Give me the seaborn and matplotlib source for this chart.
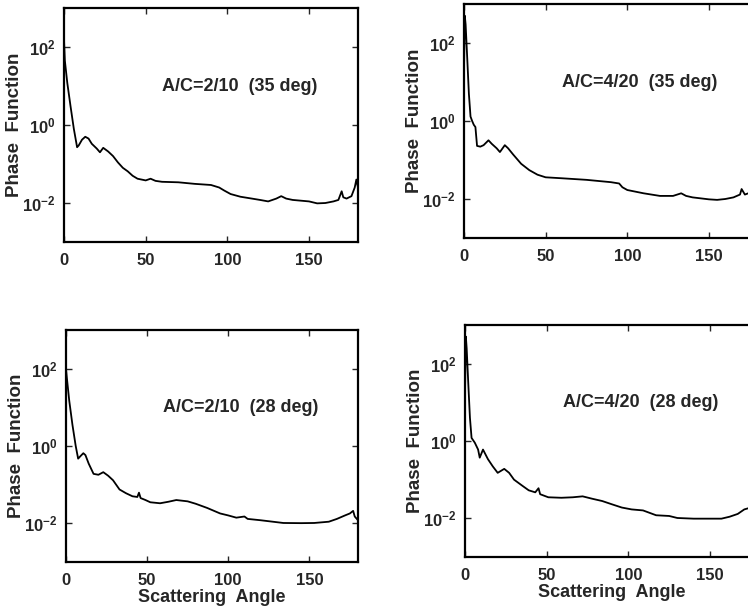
import numpy as np
import pandas as pd
import matplotlib
matplotlib.use('Agg')
import matplotlib.pyplot as plt
import seaborn as sns

# Phase function vs scattering angle
x_tl = [0, 0.5, 2, 4, 6, 8, 9, 11, 13, 15, 17, 20, 22, 24, 27, 30, 33, 36, 39, 42, 45, 50, 53, 56, 60,
        70, 80, 90, 95, 98, 102, 108, 115, 120, 125, 130, 133, 136, 140, 150, 155, 160, 165, 168, 170,
        171, 173, 176, 178, 179, 180]
y_tl = [150, 45, 12, 3, 0.8, 0.27, 0.3, 0.42, 0.5, 0.45, 0.33, 0.25, 0.2, 0.26, 0.21, 0.16, 0.11, 0.08,
        0.065, 0.05, 0.042, 0.038, 0.042, 0.037, 0.035, 0.034, 0.031, 0.029, 0.025, 0.021, 0.017, 0.0145,
        0.013, 0.012, 0.011, 0.013, 0.015, 0.013, 0.012, 0.011, 0.0098, 0.010, 0.011, 0.012, 0.02, 0.014,
        0.013, 0.015, 0.025, 0.04, 0.025]

x_tr = [0, 0.5, 1, 2, 3, 4, 5, 6, 7, 8, 10, 12, 15, 17, 20, 22, 25, 27, 30, 35, 40, 45, 50, 60, 75,
        90, 95, 97, 100, 110, 120, 128, 133, 136, 140, 150, 155, 160, 165, 169, 170, 172, 176, 180]
y_tr = [20, 500, 300, 40, 5, 1.3, 1.0, 0.8, 0.7, 0.23, 0.22, 0.24, 0.32, 0.26, 0.2, 0.16, 0.24, 0.2,
        0.14, 0.08, 0.055, 0.042, 0.036, 0.034, 0.031, 0.027, 0.025, 0.02, 0.017, 0.014, 0.012, 0.012,
        0.014, 0.012, 0.011, 0.0098, 0.0095, 0.01, 0.011, 0.013, 0.018, 0.013, 0.015, 0.02]

x_bl = [0, 0.5, 2, 4, 6, 7.5, 9, 10.7, 12, 14, 17, 20, 23, 26, 29, 33, 37, 41, 44, 45, 46, 49, 52,
        58, 63, 68, 75, 80, 87, 95, 100, 105, 110, 112, 120, 134, 145, 153, 162, 167, 172, 175, 177,
        178, 180]
y_bl = [100, 60, 15, 3.5, 1.0, 0.47, 0.55, 0.65, 0.58, 0.35, 0.19, 0.18, 0.21, 0.17, 0.13, 0.075,
        0.06, 0.05, 0.048, 0.062, 0.045, 0.04, 0.035, 0.033, 0.036, 0.04, 0.037, 0.032, 0.025, 0.018,
        0.016, 0.014, 0.015, 0.013, 0.012, 0.0102, 0.0101, 0.0102, 0.011, 0.013, 0.016, 0.018, 0.021,
        0.015, 0.012]

x_br = [0, 0.5, 1, 2, 3, 4, 6, 8, 9, 11, 14, 17, 20, 24, 27, 30, 35, 39, 43, 45, 46, 51, 59, 66, 72,
        78, 84, 90, 96, 102, 109, 117, 125, 130, 140, 150, 157, 162, 167, 171, 175, 180]
y_br = [20, 500, 250, 30, 4, 1.2, 0.9, 0.6, 0.37, 0.6, 0.34, 0.22, 0.15, 0.19, 0.15, 0.1, 0.07, 0.053,
        0.047, 0.06, 0.042, 0.035, 0.034, 0.035, 0.037, 0.032, 0.028, 0.023, 0.019, 0.017, 0.016, 0.012,
        0.0115, 0.0102, 0.0098, 0.0098, 0.0098, 0.011, 0.013, 0.017, 0.019, 0.022]

labels = ['A/C=2/10  (35 deg)', 'A/C=4/20  (35 deg)', 'A/C=2/10  (28 deg)', 'A/C=4/20  (28 deg)']

sns.set_theme(style='ticks')
plt.rcParams['font.family'] = ['Liberation Sans', 'DejaVu Sans']
plt.rcParams['mathtext.default'] = 'regular'
plt.rcParams['axes.unicode_minus'] = False

fig = plt.figure(figsize=(7.48, 6.09), dpi=100)
boxes = [[0.0856, 0.6026, 0.393, 0.3842],
         [0.6203, 0.6092, 0.393, 0.3842],
         [0.0882, 0.0772, 0.3904, 0.381],
         [0.6217, 0.0854, 0.393, 0.381]]
series = [(x_tl, y_tl), (x_tr, y_tr), (x_bl, y_bl), (x_br, y_br)]

for i, (box, (xs, ys), lab) in enumerate(zip(boxes, series, labels)):
    ax = fig.add_axes(box)
    df = pd.DataFrame({'angle': xs, 'phase': ys})
    sns.lineplot(data=df, x='angle', y='phase', ax=ax, color='black', linewidth=1.3,
                 estimator=None, sort=False)
    ax.set_yscale('log')
    ax.set_xlim(0, 180)
    ax.set_ylim(1e-3, 1e3)
    ax.set_yticks([1e-2, 1e0, 1e2])
    ax.minorticks_off()
    ax.set_xticks([0, 50, 100, 150])
    ax.tick_params(direction='in', length=4, width=1, top=True, right=True,
                   labelsize=12, pad=6)
    ax.tick_params(axis='x', pad=8)
    for t in ax.get_xticklabels() + ax.get_yticklabels():
        t.set_fontweight('bold')
    for s in ax.spines.values():
        s.set_linewidth(1.6)
        s.set_color('black')
    ax.set_ylabel('Phase  Function', fontsize=13.5, fontweight='bold')
    ax.yaxis.set_label_coords(-0.14, 0.5)
    if i >= 2:
        ax.set_xlabel('Scattering  Angle', fontsize=13, fontweight='bold', labelpad=1)
    else:
        ax.set_xlabel('')
    ax.text(60, 10, lab, fontsize=13, fontweight='bold', va='center', ha='left')

fig.savefig('out.png', dpi=100)
